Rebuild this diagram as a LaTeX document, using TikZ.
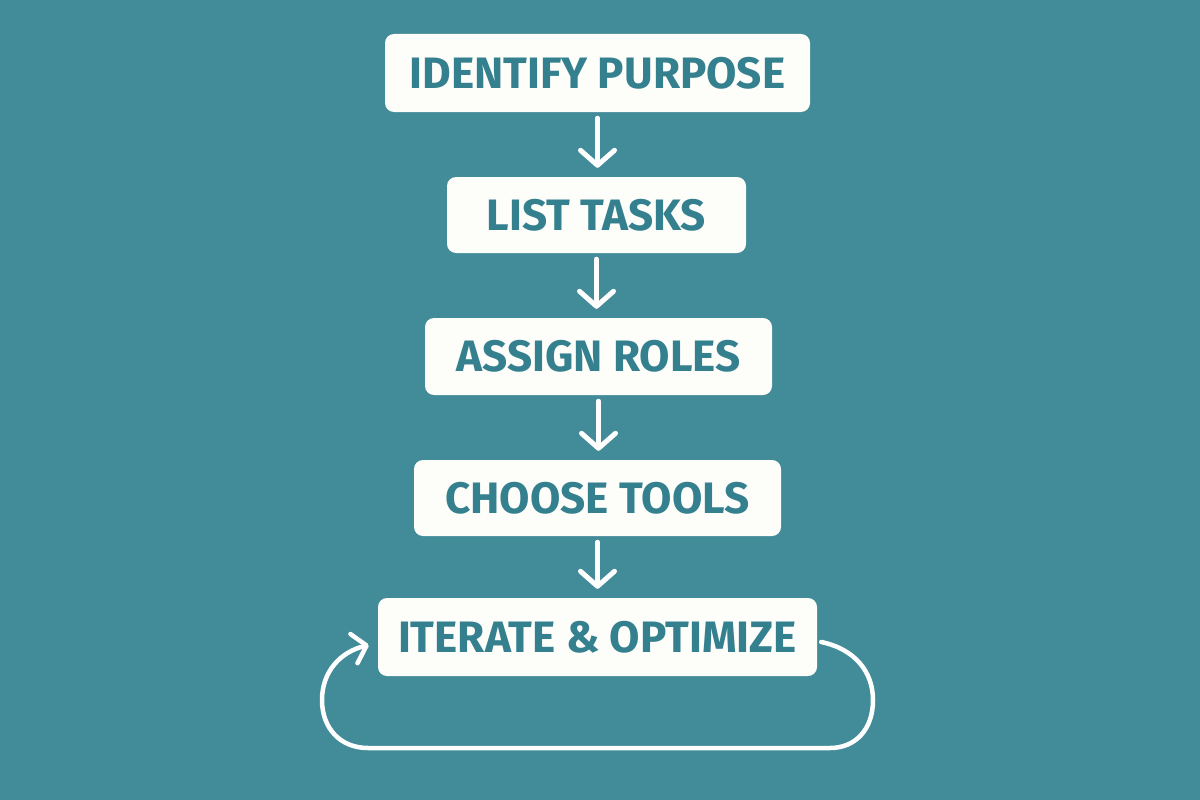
\documentclass[tikz,border=0pt]{standalone}
\usepackage{fontspec}
\setmainfont{Fira Sans}
\usetikzlibrary{arrows.meta}
\definecolor{bg}{RGB}{66,139,153}
\definecolor{boxfill}{RGB}{253,253,249}
\definecolor{txt}{RGB}{52,128,143}
\tikzset{
  stepbox/.style={draw=none, fill=boxfill, rounded corners=9pt, text=txt,
    font=\fontsize{44}{44}\selectfont\bfseries, inner sep=0pt},
  flowarrow/.style={draw=white, line width=5pt, line cap=round,
    -{Straight Barb[length=15pt,width=34pt,line cap=round,line join=round]},
    shorten <=6pt, shorten >=9pt},
  looparrow/.style={draw=white, line width=4.5pt, line cap=round,
    -{Straight Barb[length=13pt,width=30pt,line cap=round,line join=round]}}
}
\begin{document}
\begin{tikzpicture}[x=1pt,y=-1pt]
\useasboundingbox[fill=bg] (0,0) rectangle (1200,800);
\node[stepbox, minimum width=425pt, minimum height=78pt] (b1) at (597.5,73) {IDENTIFY PURPOSE};
\node[stepbox, minimum width=299pt, minimum height=76pt] (b2) at (596.5,215) {LIST TASKS};
\node[stepbox, minimum width=347pt, minimum height=77pt] (b3) at (598.5,356.5) {ASSIGN ROLES};
\node[stepbox, minimum width=367pt, minimum height=76pt] (b4) at (597.5,498) {CHOOSE TOOLS};
\node[stepbox, minimum width=439pt, minimum height=78pt] (b5) at (597.5,637) {ITERATE \& OPTIMIZE};
\draw[flowarrow] (b1.south) -- (b1.south |- b2.north);
\draw[flowarrow] (b2.south) -- (b2.south |- b3.north);
\draw[flowarrow] (b3.south) -- (b3.south |- b4.north);
\draw[flowarrow] (b4.south) -- (b4.south |- b5.north);
\coordinate (loopstart) at ([xshift=4pt,yshift=-5pt]b5.east);
\coordinate (loopend) at ([xshift=-9pt,yshift=-8pt]b5.west);
\draw[looparrow] (loopstart) .. controls (855,649) and (873,672) .. (873,700)
  .. controls (873,730) and (855,748) .. (830,748) -- (368,748)
  .. controls (340,748) and (322,728) .. (322,700)
  .. controls (322,672) and (340,652) .. (loopend);
\end{tikzpicture}
\end{document}
